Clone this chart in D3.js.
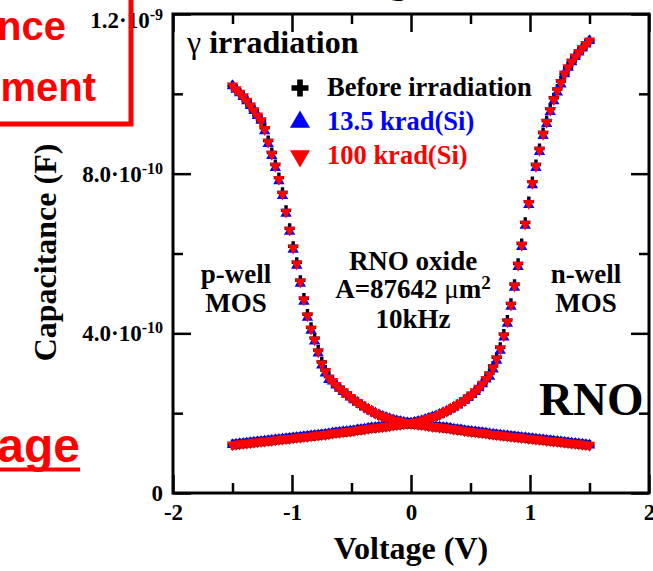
<!DOCTYPE html>
<html>
<head>
<meta charset="utf-8">
<script src="https://cdn.jsdelivr.net/npm/d3@7"></script>
<style>
  body { margin: 0; background: #fff; }
  svg text { font-family: "Liberation Serif", "Times New Roman", serif; font-weight: bold; }
  .tick line { stroke: #000; stroke-width: 2.5; }
</style>
</head>
<body>
<div id="chart"></div>
<script>
// gate voltage sweep (V)
const voltage = [-1.5,-1.47,-1.44,-1.41,-1.38,-1.35,-1.32,-1.29,-1.26,-1.23,-1.2,-1.17,-1.14,-1.11,-1.08,-1.05,-1.02,-0.99,-0.96,-0.93,-0.9,-0.87,-0.84,-0.81,-0.78,-0.75,-0.72,-0.69,-0.66,-0.63,-0.6,-0.57,-0.54,-0.51,-0.48,-0.45,-0.42,-0.39,-0.36,-0.33,-0.3,-0.27,-0.24,-0.21,-0.18,-0.15,-0.12,-0.09,-0.06,-0.03,0,0.03,0.06,0.09,0.12,0.15,0.18,0.21,0.24,0.27,0.3,0.33,0.36,0.39,0.42,0.45,0.48,0.51,0.54,0.57,0.6,0.63,0.66,0.69,0.72,0.75,0.78,0.81,0.84,0.87,0.9,0.93,0.96,0.99,1.02,1.05,1.08,1.11,1.14,1.17,1.2,1.23,1.26,1.29,1.32,1.35,1.38,1.41,1.44,1.47,1.5]

// capacitance in units of 1e-10 F, p-well MOS
const beforeP = [10.20,10.11,10.02,9.93,9.82,9.70,9.58,9.45,9.33,9.15,
  8.83,8.53,8.23,7.90,7.53,7.08,6.63,6.18,5.78,5.33,
  4.88,4.48,4.15,3.88,3.58,3.28,3.08,2.92,2.80,2.70,
  2.62,2.54,2.47,2.40,2.33,2.27,2.21,2.15,2.10,2.05,
  2.00,1.96,1.92,1.89,1.86,1.83,1.81,1.79,1.77,1.76,
  1.74,
  1.73,1.72,1.71,1.70,1.68,1.67,1.66,1.65,1.64,1.63,
  1.62,1.60,1.59,1.58,1.56,1.55,1.54,1.53,1.52,1.51,
  1.50,1.48,1.47,1.46,1.45,1.44,1.43,1.42,1.41,1.40,
  1.39,1.38,1.37,1.36,1.35,1.34,1.33,1.32,1.31,1.30,
  1.29,1.28,1.27,1.26,1.25,1.24,1.23,1.22,1.21,1.20]
const krad13P = [10.20,10.11,10.02,9.93,9.82,9.70,9.58,9.45,9.33,9.07,
  8.75,8.45,8.15,7.82,7.45,7.00,6.55,6.10,5.70,5.25,
  4.80,4.40,4.07,3.80,3.50,3.20,3.00,2.84,2.80,2.70,
  2.62,2.54,2.47,2.40,2.33,2.27,2.21,2.15,2.10,2.05,
  2.00,1.96,1.92,1.89,1.86,1.83,1.81,1.79,1.77,1.76,
  1.74,
  1.73,1.72,1.71,1.70,1.68,1.67,1.66,1.65,1.64,1.63,
  1.62,1.60,1.59,1.58,1.56,1.55,1.54,1.53,1.52,1.51,
  1.50,1.48,1.47,1.46,1.45,1.44,1.43,1.42,1.41,1.40,
  1.39,1.38,1.37,1.36,1.35,1.34,1.33,1.32,1.31,1.30,
  1.29,1.28,1.27,1.26,1.25,1.24,1.23,1.22,1.21,1.20]
const krad100P = [10.20,10.11,10.02,9.93,9.82,9.70,9.58,9.45,9.33,9.11,
  8.79,8.49,8.19,7.86,7.49,7.04,6.59,6.14,5.74,5.29,
  4.84,4.44,4.11,3.84,3.54,3.24,3.04,2.88,2.80,2.70,
  2.62,2.54,2.47,2.40,2.33,2.27,2.21,2.15,2.10,2.05,
  2.00,1.96,1.92,1.89,1.86,1.83,1.81,1.79,1.77,1.76,
  1.74,
  1.73,1.72,1.71,1.70,1.68,1.67,1.66,1.65,1.64,1.63,
  1.62,1.60,1.59,1.58,1.56,1.55,1.54,1.53,1.52,1.51,
  1.50,1.48,1.47,1.46,1.45,1.44,1.43,1.42,1.41,1.40,
  1.39,1.38,1.37,1.36,1.35,1.34,1.33,1.32,1.31,1.30,
  1.29,1.28,1.27,1.26,1.25,1.24,1.23,1.22,1.21,1.20]

// n-well MOS
const beforeN = [1.21,1.22,1.23,1.24,1.25,1.26,1.27,1.28,1.29,1.30,
  1.31,1.32,1.33,1.34,1.35,1.36,1.37,1.38,1.39,1.40,
  1.41,1.42,1.43,1.44,1.45,1.46,1.47,1.48,1.50,1.51,
  1.52,1.53,1.54,1.55,1.56,1.58,1.59,1.60,1.62,1.63,
  1.64,1.65,1.66,1.67,1.68,1.70,1.71,1.72,1.73,1.74,
  1.75,
  1.77,1.79,1.81,1.84,1.87,1.90,1.93,1.97,2.01,2.05,
  2.10,2.15,2.20,2.26,2.32,2.39,2.46,2.54,2.63,2.73,
  2.85,3.00,3.18,3.40,3.65,3.98,4.33,4.75,5.23,5.75,
  6.25,6.78,7.30,7.80,8.23,8.63,9.03,9.33,9.63,9.90,
  10.12,10.32,10.50,10.66,10.80,10.93,11.04,11.14,11.24,11.33]
const krad13N = [1.21,1.22,1.23,1.24,1.25,1.26,1.27,1.28,1.29,1.30,
  1.31,1.32,1.33,1.34,1.35,1.36,1.37,1.38,1.39,1.40,
  1.41,1.42,1.43,1.44,1.45,1.46,1.47,1.48,1.50,1.51,
  1.52,1.53,1.54,1.55,1.56,1.58,1.59,1.60,1.62,1.63,
  1.64,1.65,1.66,1.67,1.68,1.70,1.71,1.72,1.73,1.74,
  1.75,
  1.77,1.79,1.81,1.84,1.87,1.90,1.93,1.97,2.01,2.05,
  2.10,2.15,2.20,2.26,2.32,2.39,2.46,2.54,2.63,2.73,
  2.85,2.92,3.10,3.32,3.57,3.90,4.25,4.67,5.15,5.67,
  6.17,6.70,7.22,7.72,8.15,8.55,8.95,9.25,9.55,9.82,
  10.04,10.24,10.50,10.66,10.80,10.93,11.04,11.14,11.24,11.33]
const krad100N = [1.21,1.22,1.23,1.24,1.25,1.26,1.27,1.28,1.29,1.30,
  1.31,1.32,1.33,1.34,1.35,1.36,1.37,1.38,1.39,1.40,
  1.41,1.42,1.43,1.44,1.45,1.46,1.47,1.48,1.50,1.51,
  1.52,1.53,1.54,1.55,1.56,1.58,1.59,1.60,1.62,1.63,
  1.64,1.65,1.66,1.67,1.68,1.70,1.71,1.72,1.73,1.74,
  1.75,
  1.77,1.79,1.81,1.84,1.87,1.90,1.93,1.97,2.01,2.05,
  2.10,2.15,2.20,2.26,2.32,2.39,2.46,2.54,2.63,2.73,
  2.85,2.96,3.14,3.36,3.61,3.94,4.29,4.71,5.19,5.71,
  6.21,6.74,7.26,7.76,8.19,8.59,8.99,9.29,9.59,9.86,
  10.08,10.28,10.50,10.66,10.80,10.93,11.04,11.14,11.24,11.33]

const seriesNames = ['Before irradiation', '13.5 krad(Si)', '100 krad(Si)']
const seriesColors = ['#000000', '#0000ff', '#ff0000']

const xMajor = [-2, -1, 0, 1, 2]
const xMinor = [-1.5, -0.5, 0.5, 1.5]
const yMajor = [0, 4, 8, 12]
const yMinor = [2, 6, 10]
const yTickText = ['0', '4.0·10', '8.0·10', '1.2·10']
const yTickExp = ['', '-10', '-10', '-9']

const width = 653
const height = 571

const svg = d3.select('#chart')
  .append('svg')
  .attr('width', width)
  .attr('height', height)

const x = d3.scaleLinear().domain([-2, 2]).range([173, 649])
const y = d3.scaleLinear().domain([0, 12]).range([493, 14])

// axes, ticks pointing inward
const addAxis = (axis, tx, ty) => {
  const g = svg.append('g').attr('transform', `translate(${tx},${ty})`).call(axis)
  g.select('.domain').remove()
  return g
}
const xb = addAxis(d3.axisBottom(x).tickValues(xMajor).tickSize(-18).tickPadding(11).tickFormat(d => String(d)), 0, 493)
addAxis(d3.axisBottom(x).tickValues(xMinor).tickSize(-10).tickFormat(''), 0, 493)
addAxis(d3.axisTop(x).tickValues(xMajor).tickSize(-18).tickFormat(''), 0, 14)
addAxis(d3.axisTop(x).tickValues(xMinor).tickSize(-10).tickFormat(''), 0, 14)
const yl = addAxis(d3.axisLeft(y).tickValues(yMajor).tickSize(-18).tickPadding(10), 173, 0)
addAxis(d3.axisLeft(y).tickValues(yMinor).tickSize(-10).tickFormat(''), 173, 0)
addAxis(d3.axisRight(y).tickValues(yMajor).tickSize(-18).tickFormat(''), 649, 0)
addAxis(d3.axisRight(y).tickValues(yMinor).tickSize(-10).tickFormat(''), 649, 0)

xb.selectAll('.tick text')
  .attr('font-size', 23)
  .attr('fill', '#000')
  .style('font-family', '"Liberation Serif", serif')

yl.selectAll('.tick text')
  .attr('font-size', 23)
  .attr('fill', '#000')
  .style('font-family', '"Liberation Serif", serif')
  .each(function (d) {
    const i = yMajor.indexOf(d)
    const t = d3.select(this).text(null)
    if (d === 12) t.attr('dy', '0.58em')
    t.append('tspan').text(yTickText[i])
    if (yTickExp[i]) t.append('tspan').attr('dy', '-0.5em').attr('font-size', 16).text(yTickExp[i])
  })

// frame
svg.append('rect')
  .attr('x', x(-2)).attr('y', y(12))
  .attr('width', x(2) - x(-2)).attr('height', y(0) - y(12))
  .attr('fill', 'none').attr('stroke', '#000').attr('stroke-width', 3)

// axis titles
svg.append('text')
  .attr('x', (x(-2) + x(2)) / 2).attr('y', 559)
  .attr('text-anchor', 'middle').attr('font-size', 32)
  .text('Voltage (V)')
svg.append('text')
  .attr('transform', `translate(56,${(y(0) + y(12)) / 2 - 1}) rotate(-90)`)
  .attr('text-anchor', 'middle').attr('font-size', 32)
  .text('Capacitance (F)')

// data markers
const symPlus = d3.symbol().type(d3.symbolCross).size(58)
const symTri = d3.symbol().type(d3.symbolTriangle).size(56)
const series = [
  { p: beforeP, n: beforeN, sym: symPlus, rot: 0 },
  { p: krad13P, n: krad13N, sym: symTri, rot: 0 },
  { p: krad100P, n: krad100N, sym: symTri, rot: 180 }
]
series.forEach((s, k) => {
  const pts = voltage.map((v, i) => [v, s.p[i]]).concat(voltage.map((v, i) => [v, s.n[i]]))
  svg.append('g')
    .selectAll('path')
    .data(pts)
    .enter()
      .append('path')
      .attr('d', s.sym())
      .attr('fill', seriesColors[k])
      .attr('transform', d => `translate(${x(d[0])},${y(d[1])}) rotate(${s.rot})`)
})

// legend
const lg = svg.append('g')
const legendSyms = [
  d3.symbol().type(d3.symbolCross).size(160),
  d3.symbol().type(d3.symbolTriangle).size(175),
  d3.symbol().type(d3.symbolTriangle).size(175)
]
const legendRot = [0, 0, 180]
seriesNames.forEach((name, k) => {
  const cy = 88 + k * 34
  lg.append('path')
    .attr('d', legendSyms[k]())
    .attr('fill', seriesColors[k])
    .attr('transform', `translate(300,${cy}) rotate(${legendRot[k]})`)
  lg.append('text')
    .attr('x', 327).attr('y', cy + 8)
    .attr('font-size', 26.5)
    .attr('fill', seriesColors[k])
    .text(name)
})

// annotations
const gam = svg.append('text').attr('x', 187).attr('y', 53).attr('font-size', 32)
gam.append('tspan').attr('font-weight', 'normal').text('γ ')
gam.append('tspan').text('irradiation')

const centered = (lines, cx, y0, dy, size) => {
  lines.forEach((l, i) => {
    svg.append('text').attr('x', cx).attr('y', y0 + i * dy)
      .attr('text-anchor', 'middle').attr('font-size', size).text(l)
  })
}
centered(['p-well', 'MOS'], 236, 283, 29, 27)
centered(['n-well', 'MOS'], 586, 283, 29, 27)
svg.append('text').attr('x', 413).attr('y', 270).attr('text-anchor', 'middle').attr('font-size', 27).text('RNO oxide')
const area = svg.append('text').attr('x', 413).attr('y', 298).attr('text-anchor', 'middle').attr('font-size', 27)
area.append('tspan').text('A=87642 ')
area.append('tspan').attr('font-weight', 'normal').text('μ')
area.append('tspan').text('m')
area.append('tspan').attr('dy', '-0.45em').attr('font-size', 19).text('2')
svg.append('text').attr('x', 413).attr('y', 328).attr('text-anchor', 'middle').attr('font-size', 27).text('10kHz')
svg.append('text').attr('x', 539).attr('y', 415).attr('font-size', 47).text('RNO')

// surrounding slide fragments
svg.append('text').attr('x', 398).attr('y', -8).attr('text-anchor', 'middle').attr('font-size', 40).text('g')
const slide = svg.append('g')
slide.append('rect')
  .attr('x', -20).attr('y', -20).attr('width', 151).attr('height', 144)
  .attr('fill', 'none').attr('stroke', '#ff0000').attr('stroke-width', 5)
slide.append('text').attr('x', 66).attr('y', 40).attr('text-anchor', 'end')
  .attr('font-size', 40).attr('fill', '#ff0000').style('font-family', '"Liberation Sans", Arial, sans-serif').text('nce')
slide.append('text').attr('x', 96).attr('y', 101).attr('text-anchor', 'end')
  .attr('font-size', 40).attr('fill', '#ff0000').style('font-family', '"Liberation Sans", Arial, sans-serif').text('ment')
slide.append('text').attr('x', 80).attr('y', 462).attr('text-anchor', 'end')
  .attr('font-size', 48).attr('fill', '#ff0000').style('font-family', '"Liberation Sans", Arial, sans-serif').text('age')
slide.append('line')
  .attr('x1', 0).attr('x2', 80).attr('y1', 469.5).attr('y2', 469.5)
  .attr('stroke', '#ff0000').attr('stroke-width', 4)
</script>
</body>
</html>
